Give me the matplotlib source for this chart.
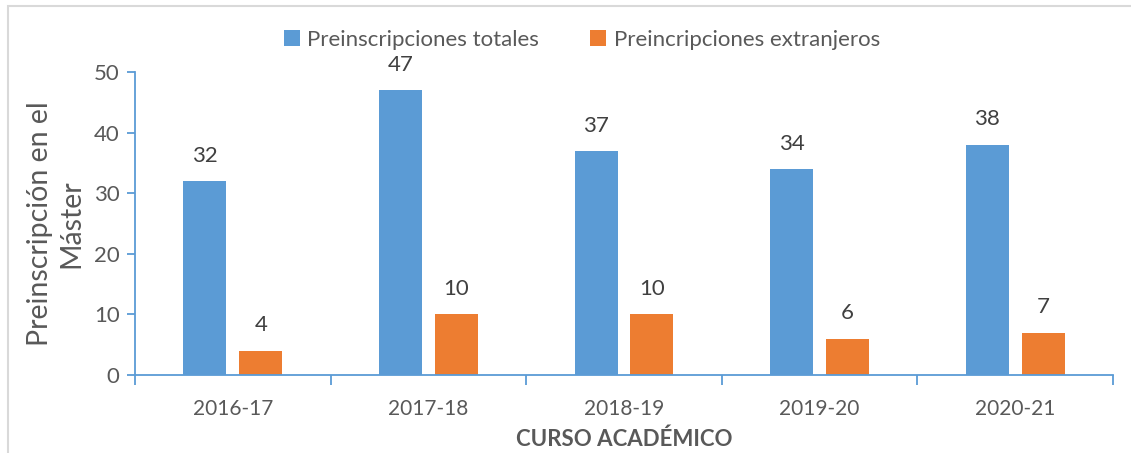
import matplotlib
matplotlib.use("Agg")
import matplotlib.pyplot as plt
import numpy as np
from matplotlib.patches import Rectangle

categories = ["2016-17", "2017-18", "2018-19", "2019-20", "2020-21"]
totales = [32, 47, 37, 34, 38]
extranjeros = [4, 10, 10, 6, 7]
series_names = ["Preinscripciones totales", "Preincripciones extranjeros"]
y_ticks = [0, 10, 20, 30, 40, 50]

BLUE = "#5B9BD5"
ORANGE = "#ED7D31"
TXT = "#595959"
LBL = "#404040"

plt.rcParams['font.family'] = ['Lato', 'DejaVu Sans']

W, H = 1131, 453
fig = plt.figure(figsize=(W/100, H/100), dpi=100)
fig.patch.set_facecolor("white")

# outer border (top and left visible)
fig.patches.append(Rectangle((8/W, -0.1), 1.2, 1 - 6/H + 0.1, transform=fig.transFigure,
                             fill=False, edgecolor="#D9D9D9", linewidth=1.5, zorder=0))

ax = fig.add_axes([135/W, 1-375/H, (1113-135)/W, (375-72)/H])

x = np.arange(len(categories))
bw = 0.22
off = 0.143
b1 = ax.bar(x - off, totales, bw, color=BLUE, label=series_names[0], zorder=2)
b2 = ax.bar(x + off, extranjeros, bw, color=ORANGE, label=series_names[1], zorder=2)

for bars, vals in ((b1, totales), (b2, extranjeros)):
    for r, v in zip(bars, vals):
        ax.annotate(str(v), (r.get_x() + r.get_width()/2, v), xytext=(0, 11),
                    textcoords="offset points", ha="center", va="bottom",
                    fontsize=16, color=LBL)

ax.set_xlim(-0.5, len(categories) - 0.5)
ax.set_ylim(0, 50)
ax.set_yticks(y_ticks)
ax.set_yticklabels([str(t) for t in y_ticks])
ax.set_xticks(x)
ax.set_xticklabels(categories)
ax.set_xticks(np.arange(len(categories) + 1) - 0.5, minor=True)
ax.tick_params(axis="x", which="major", length=0, pad=17, labelsize=15, labelcolor=TXT)
ax.tick_params(axis="x", which="minor", length=7, width=1.3, color=BLUE)
ax.tick_params(axis="y", length=6, width=1.3, color=BLUE, labelsize=16, labelcolor=TXT, pad=5)

for s in ("top", "right"):
    ax.spines[s].set_visible(False)
for s in ("left", "bottom"):
    ax.spines[s].set_color(BLUE)
    ax.spines[s].set_linewidth(1.3)

ax.set_ylabel("Preinscripción en el\nMáster", fontsize=20.5, color=TXT, labelpad=7, linespacing=1.25)
ax.set_xlabel("CURSO ACADÉMICO", fontsize=16, fontweight="bold", color=TXT, labelpad=7)

leg = fig.legend(handles=[b1, b2], labels=series_names, loc="center",
                 bbox_to_anchor=(582/W, 1-40/H), ncol=2, frameon=False,
                 fontsize=16, handlelength=0.7, handleheight=0.7, handletextpad=0.35,
                 columnspacing=2.3, labelcolor=TXT)

fig.savefig("out.png", dpi=100, facecolor="white")
